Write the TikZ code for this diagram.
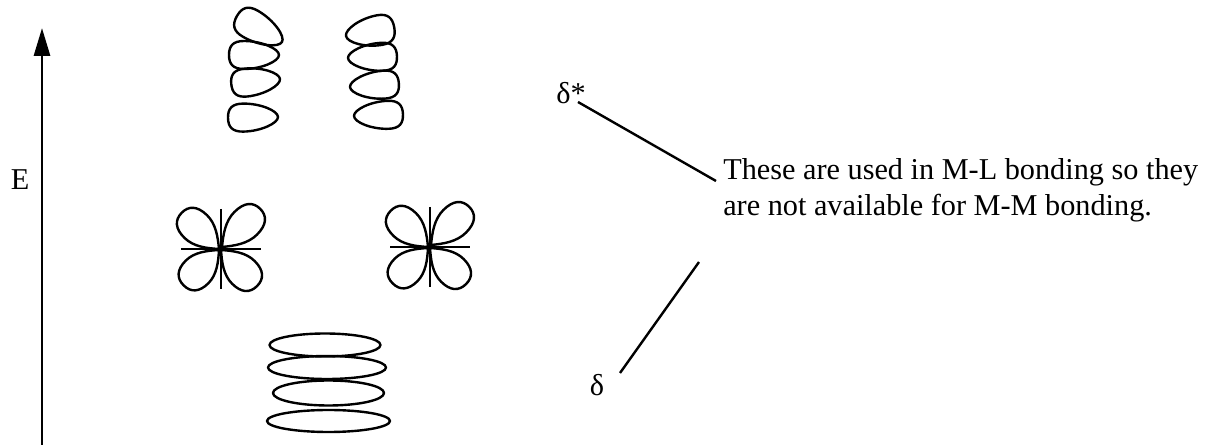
\documentclass[tikz,border=0pt]{standalone}
\usepackage{fontspec}
\setmainfont{Liberation Serif}
\usetikzlibrary{arrows.meta}
\begin{document}
\begin{tikzpicture}[
    x=0.75pt, y=-0.75pt,
    orbital/.style={line width=1.8pt, line join=round},
    connector/.style={line width=1.8pt},
    axis/.style={line width=2.2pt, -{Triangle[length=21pt, width=12pt]}},
    label/.style={font=\fontsize{22.7}{27}\selectfont, inner sep=0pt}
]
\useasboundingbox (0,0) rectangle (1231,448);

% Helper macro for a single egg: x, y of the blunt tip, angle, length, half width
\newcommand{\singleegg}[5]{%
    \draw[orbital, shift={(#1,#2)}, rotate=#3, xscale=#4, yscale=#5]
        (0,0) .. controls (0,0.45) and (0.35,1) .. (0.7,1)
        .. controls (0.92,1) and (1,0.65) .. (1,0)
        .. controls (1,-0.65) and (0.92,-1) .. (0.7,-1)
        .. controls (0.35,-1) and (0,-0.45) .. (0,0) -- cycle;
}

% Helper macro for a single lobe: x, y of the tip, angle, length, half width
\newcommand{\singlelobe}[5]{%
    \draw[orbital, shift={(#1,#2)}, rotate=#3, xscale=#4, yscale=#5]
        (0,0) .. controls (0.18,0.5) and (0.38,1) .. (0.62,1)
        .. controls (0.88,1) and (1,0.62) .. (1,0)
        .. controls (1,-0.62) and (0.88,-1) .. (0.62,-1)
        .. controls (0.38,-1) and (0.18,-0.5) .. (0,0) -- cycle;
}

% Helper macro for a crossed pair of axes with four lobes: x, y, half length
\newcommand{\cloverleaf}[3]{%
    \draw[connector] (#1-#3,#2) -- (#1+#3,#2);
    \draw[connector] (#1,#2-#3) -- (#1,#2+#3);
    \singlelobe{#1-2}{#2}{136}{52}{16}
    \singlelobe{#1+1}{#2-2}{45}{54}{16}
    \singlelobe{#1-2}{#2+1}{225}{50}{16}
    \singlelobe{#1}{#2+1}{315}{51}{16}
}

% Energy axis
\coordinate (axisbottom) at (42,445);
\coordinate (axistop) at (42,28);
\draw[axis] (axisbottom) -- (axistop);
\node[label] (energy) at (20,180) {E};

% Top left stack
\singleegg{282}{42}{150}{52}{15}
\singleegg{279}{55}{180}{50}{14}
\singleegg{280}{79}{186}{49}{14}
\singleegg{278}{117}{181}{50}{14}

% Top right stack
\singleegg{346}{36}{10}{49}{15}
\singleegg{348}{58}{2}{49}{14}
\singleegg{350}{87}{4}{49}{14}
\singleegg{354}{116}{2}{49}{14}

% Middle pair
\cloverleaf{221}{249}{40}
\cloverleaf{430}{247}{40}

% Bottom stack
\draw[orbital] (325,345) ellipse[x radius=55.5, y radius=11.5];
\draw[orbital] (327,367.5) ellipse[x radius=59, y radius=11.5];
\draw[orbital] (328.5,393) ellipse[x radius=55.5, y radius=12.5];
\draw[orbital] (328.5,421) ellipse[x radius=61.5, y radius=11];

% Labels and lines to the note
\node[label] (deltastar) at (571,93) {δ*};
\node[label] (delta) at (597,385) {δ};
\node[label, anchor=west, align=left] (note) at (723,190)
    {These are used in M-L bonding so they\\are not available for M-M bonding.};
\coordinate (upperstart) at (578,102);
\coordinate (upperend) at (716,181);
\coordinate (lowerstart) at (620,373);
\coordinate (lowerend) at (699,262);
\draw[connector] (upperstart) -- (upperend);
\draw[connector] (lowerstart) -- (lowerend);

\end{tikzpicture}
\end{document}
